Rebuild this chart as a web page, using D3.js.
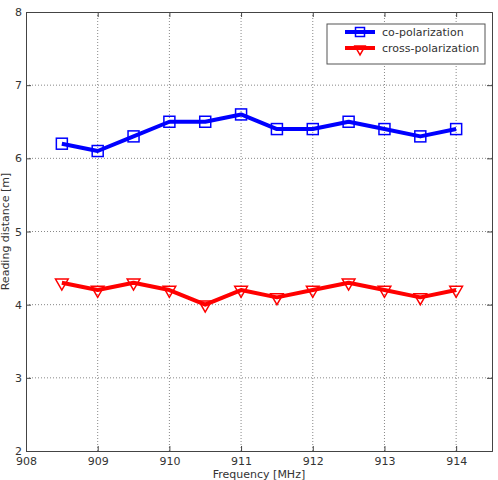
<!DOCTYPE html>
<html>
<head>
<meta charset="utf-8">
<script src="https://cdn.jsdelivr.net/npm/d3@7"></script>
<style>
  body { margin: 0; background: #fff; }
  text { font-family: "DejaVu Sans", sans-serif; fill: #333; }
</style>
</head>
<body>
<div id="chart"></div>
<script>
// data
var freqs = [908.5, 909, 909.5, 910, 910.5, 911, 911.5, 912, 912.5, 913, 913.5, 914];
var coPol = [6.2, 6.1, 6.3, 6.5, 6.5, 6.6, 6.4, 6.4, 6.5, 6.4, 6.3, 6.4];
var crossPol = [4.3, 4.2, 4.3, 4.2, 4.0, 4.2, 4.1, 4.2, 4.3, 4.2, 4.1, 4.2];
var xTicks = [908, 909, 910, 911, 912, 913, 914];
var yTicks = [2, 3, 4, 5, 6, 7, 8];
var seriesNames = ["co-polarization", "cross-polarization"];

var svgWidth = 498, svgHeight = 480;
var margin = { top: 12, right: 6, bottom: 29, left: 26 };
var width = svgWidth - margin.left - margin.right;
var height = svgHeight - margin.top - margin.bottom;

var svg = d3.select("#chart").append("svg")
    .attr("width", svgWidth)
    .attr("height", svgHeight);

var chartGroup = svg.append("g")
    .attr("transform", `translate(${margin.left}, ${margin.top})`);

var xScale = d3.scaleLinear().domain([908, 914.5]).range([0, width]);
var yScale = d3.scaleLinear().domain([2, 8]).range([height, 0]);

// grid
chartGroup.append("g").selectAll("line")
    .data(xTicks.slice(1))
    .enter().append("line")
    .attr("x1", d => xScale(d)).attr("x2", d => xScale(d))
    .attr("y1", 0).attr("y2", height)
    .attr("stroke", "#888").attr("stroke-width", 1)
    .attr("stroke-dasharray", "1,2");

chartGroup.append("g").selectAll("line")
    .data(yTicks.slice(1, -1))
    .enter().append("line")
    .attr("x1", 0).attr("x2", width)
    .attr("y1", d => yScale(d)).attr("y2", d => yScale(d))
    .attr("stroke", "#888").attr("stroke-width", 1)
    .attr("stroke-dasharray", "1,2");

// axes, ticks pointing inward like matlab
var bottomAxis = d3.axisBottom(xScale).tickValues(xTicks).tickSize(-5).tickPadding(6).tickFormat(d3.format("d"));
var topAxis = d3.axisTop(xScale).tickValues(xTicks).tickSize(-5).tickFormat("");
var leftAxis = d3.axisLeft(yScale).tickValues(yTicks).tickSize(-5).tickPadding(4).tickFormat(d3.format("d"));
var rightAxis = d3.axisRight(yScale).tickValues(yTicks).tickSize(-5).tickFormat("");

function styleAxis(g) {
    g.select(".domain").attr("stroke", "#444");
    g.selectAll(".tick line").attr("stroke", "#444");
    g.selectAll(".tick text").attr("fill", "#333").style("font-size", "11px")
        .style("font-family", "'DejaVu Sans', sans-serif");
}

chartGroup.append("g").attr("transform", `translate(0, ${height})`).call(bottomAxis).call(styleAxis);
chartGroup.append("g").call(topAxis).call(styleAxis);
chartGroup.append("g").call(leftAxis).call(styleAxis);
chartGroup.append("g").attr("transform", `translate(${width}, 0)`).call(rightAxis).call(styleAxis);

// lines
var line = d3.line()
    .x((d, i) => xScale(freqs[i]))
    .y(d => yScale(d));

chartGroup.append("path")
    .datum(coPol)
    .attr("d", line)
    .attr("fill", "none")
    .attr("stroke", "#0000ff")
    .attr("stroke-width", 4)
    .attr("stroke-linejoin", "round");

chartGroup.append("path")
    .datum(crossPol)
    .attr("d", line)
    .attr("fill", "none")
    .attr("stroke", "#ff0000")
    .attr("stroke-width", 4)
    .attr("stroke-linejoin", "round");

// markers
var sq = 11;
chartGroup.append("g").selectAll("rect")
    .data(coPol)
    .enter().append("rect")
    .attr("x", (d, i) => xScale(freqs[i]) - sq / 2)
    .attr("y", d => yScale(d) - sq / 2)
    .attr("width", sq).attr("height", sq)
    .attr("fill", "none")
    .attr("stroke", "#0000ff")
    .attr("stroke-width", 1.5);

var tri = d3.symbol().type(d3.symbolTriangle).size(70);
chartGroup.append("g").selectAll("path")
    .data(crossPol)
    .enter().append("path")
    .attr("d", tri)
    .attr("transform", (d, i) => `translate(${xScale(freqs[i])}, ${yScale(d)}) rotate(180)`)
    .attr("fill", "none")
    .attr("stroke", "#ff0000")
    .attr("stroke-width", 1.5);

// legend
var legend = chartGroup.append("g").attr("transform", "translate(301, 12)");
legend.append("rect")
    .attr("width", 158).attr("height", 40)
    .attr("fill", "#fff").attr("stroke", "#555").attr("stroke-width", 1);

var colors = ["#0000ff", "#ff0000"];
seriesNames.forEach(function(name, i) {
    var y = 8 + i * 16;
    legend.append("line")
        .attr("x1", 18).attr("x2", 48).attr("y1", y).attr("y2", y)
        .attr("stroke", colors[i]).attr("stroke-width", 4);
    if (i === 0) {
        legend.append("rect")
            .attr("x", 33 - 4.5).attr("y", y - 4.5).attr("width", 9).attr("height", 9)
            .attr("fill", "none").attr("stroke", colors[i]).attr("stroke-width", 1.5);
    } else {
        legend.append("path")
            .attr("d", d3.symbol().type(d3.symbolTriangle).size(45))
            .attr("transform", `translate(33, ${y + 1}) rotate(180)`)
            .attr("fill", "none").attr("stroke", colors[i]).attr("stroke-width", 1.5);
    }
    legend.append("text")
        .attr("x", 55).attr("y", y)
        .attr("dy", "0.35em")
        .style("font-size", "11px")
        .text(name);
});

// axis titles
chartGroup.append("text")
    .attr("x", width / 2)
    .attr("y", height + 27)
    .attr("text-anchor", "middle")
    .style("font-size", "11px")
    .text("Frequency [MHz]");

chartGroup.append("text")
    .attr("transform", "rotate(-90)")
    .attr("x", -height / 2)
    .attr("y", -margin.left + 9)
    .attr("text-anchor", "middle")
    .style("font-size", "11px")
    .text("Reading distance [m]");
</script>
</body>
</html>
